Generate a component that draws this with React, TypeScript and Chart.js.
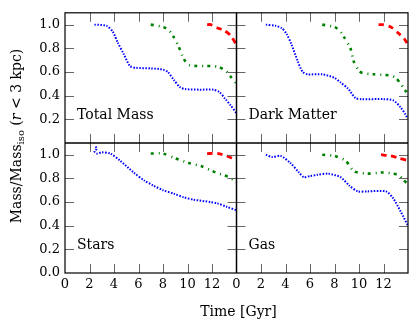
import React, { useEffect, useRef } from 'react';
import { Chart, registerables } from 'chart.js';
Chart.register(...registerables);

type P = [number, number];

// axis ranges and tick labels
const X_MIN = 0;
const X_MAX = 14;
const Y_MIN = 0;
const Y_MAX = 1.1;
const X_TICKS_LEFT = [0, 2, 4, 6, 8, 10, 12];
const X_TICKS_RIGHT = [0, 2, 4, 6, 8, 10, 12];
const Y_TICKS_TOP = [0.2, 0.4, 0.6, 0.8, 1.0];
const Y_TICKS_BOTTOM = [0.0, 0.2, 0.4, 0.6, 0.8, 1.0];
const PANEL_NAMES = ['Total Mass', 'Dark Matter', 'Stars', 'Gas'];
const X_TITLE = 'Time [Gyr]';

// Total Mass panel
const totalMassBlue: P[] = [[2.4, 1.0], [3.4, 0.99], [3.9, 0.94], [4.3, 0.85], [4.8, 0.75], [5.3, 0.65], [5.8, 0.635], [7.0, 0.63], [8.0, 0.62], [8.4, 0.6], [8.9, 0.53], [9.4, 0.47], [9.8, 0.455], [11.0, 0.45], [12.1, 0.45], [12.6, 0.43], [13.1, 0.37], [13.5, 0.32], [14.0, 0.25]];
const totalMassGreen: P[] = [[7.0, 1.0], [8.0, 0.98], [8.5, 0.95], [8.9, 0.89], [9.3, 0.81], [9.7, 0.71], [10.1, 0.66], [10.8, 0.65], [12.0, 0.65], [12.6, 0.64], [13.1, 0.61], [13.6, 0.55], [14.0, 0.5]];
const totalMassRed: P[] = [[11.6, 1.0], [11.9, 1.0], [12.5, 0.97], [13.0, 0.95], [13.5, 0.91], [14.0, 0.83]];

// Dark Matter panel
const darkMatterBlue: P[] = [[2.4, 1.0], [3.2, 0.99], [3.7, 0.97], [4.1, 0.92], [4.5, 0.83], [5.0, 0.69], [5.4, 0.6], [5.8, 0.58], [7.0, 0.58], [8.0, 0.55], [8.5, 0.51], [9.1, 0.46], [9.7, 0.38], [10.2, 0.37], [12.0, 0.37], [12.8, 0.36], [13.4, 0.3], [13.8, 0.24], [14.0, 0.2]];
const darkMatterGreen: P[] = [[7.0, 1.0], [8.0, 0.98], [8.5, 0.94], [8.8, 0.89], [9.3, 0.8], [9.6, 0.68], [10.0, 0.61], [10.3, 0.59], [11.2, 0.58], [12.6, 0.57], [13.0, 0.55], [13.4, 0.5], [13.8, 0.44], [14.0, 0.41]];
const darkMatterRed: P[] = [[11.6, 1.0], [11.9, 1.0], [12.6, 0.98], [13.3, 0.92], [13.7, 0.88], [14.0, 0.83]];

// Stars panel
const starsBlue: P[] = [[2.5, 1.07], [2.6, 1.05], [2.4, 1.03], [2.6, 1.01], [3.0, 1.02], [3.7, 1.01], [4.5, 0.95], [5.6, 0.85], [6.5, 0.78], [7.2, 0.74], [8.0, 0.7], [8.9, 0.67], [9.7, 0.64], [10.5, 0.62], [11.9, 0.6], [12.4, 0.59], [13.2, 0.56], [14.0, 0.53]];
const starsGreen: P[] = [[7.0, 1.01], [8.0, 1.01], [9.0, 0.97], [10.1, 0.93], [11.2, 0.9], [12.3, 0.85], [13.4, 0.81], [14.0, 0.77]];
const starsRed: P[] = [[11.6, 1.01], [12.5, 1.01], [13.2, 0.99], [13.7, 0.97], [14.0, 0.97]];

// Gas panel
const gasBlue: P[] = [[2.4, 1.0], [2.9, 0.98], [3.6, 0.99], [4.4, 0.93], [5.1, 0.85], [5.5, 0.81], [6.0, 0.82], [6.6, 0.83], [7.5, 0.84], [8.5, 0.81], [9.2, 0.74], [9.9, 0.69], [10.7, 0.69], [12.2, 0.69], [12.8, 0.63], [13.4, 0.52], [14.0, 0.4]];
const gasGreen: P[] = [[7.0, 1.0], [8.0, 0.99], [8.9, 0.95], [9.6, 0.86], [10.7, 0.84], [12.0, 0.85], [13.2, 0.83], [13.6, 0.79], [14.0, 0.75]];
const gasRed: P[] = [[11.8, 1.0], [12.6, 0.99], [13.3, 0.97], [14.0, 0.95]];

const SERIF = '"DejaVu Serif", serif';

const STYLE = {
  blue: { color: '#0000ff', dash: [1.5, 1.5], width: 2 },
  green: { color: '#008000', dash: [3, 5, 1, 4], width: 2.6 },
  red: { color: '#ff0000', dash: [5.5, 4.5], width: 2.8 },
};

function ds(data: P[], style: { color: string; dash: number[]; width: number }, xAxisID: string, yAxisID: string) {
  return {
    data: data.map(([x, y]) => ({ x, y })),
    borderColor: style.color,
    backgroundColor: style.color,
    borderDash: style.dash,
    borderWidth: style.width,
    borderCapStyle: 'butt',
    pointRadius: 0,
    tension: 0.25,
    fill: false,
    xAxisID,
    yAxisID,
  };
}

const TICK_LEN = 9;

const panelPlugin = {
  id: 'panelDecor',
  afterDatasetsDraw(chart: any) {
    const ctx = chart.ctx as CanvasRenderingContext2D;
    const s = chart.scales;
    const panels: [any, any, string][] = [
      [s.xL, s.yT, PANEL_NAMES[0]],
      [s.xR, s.yT, PANEL_NAMES[1]],
      [s.xL, s.yB, PANEL_NAMES[2]],
      [s.xR, s.yB, PANEL_NAMES[3]],
    ];
    const xMarks = X_TICKS_LEFT.filter((v) => v > X_MIN && v < X_MAX);
    const yMarks = Y_TICKS_BOTTOM.filter((v) => v > Y_MIN && v < Y_MAX);
    ctx.save();
    ctx.strokeStyle = '#666';
    ctx.lineWidth = 1;
    for (const [xs, ys, name] of panels) {
      const L = xs.left, R = xs.right, T = ys.top, B = ys.bottom;
      ctx.beginPath();
      for (const v of xMarks) {
        const px = Math.round(xs.getPixelForValue(v)) + 0.5;
        ctx.moveTo(px, B); ctx.lineTo(px, B - TICK_LEN);
        ctx.moveTo(px, T); ctx.lineTo(px, T + TICK_LEN);
      }
      for (const v of yMarks) {
        const py = Math.round(ys.getPixelForValue(v)) + 0.5;
        ctx.moveTo(L, py); ctx.lineTo(L + TICK_LEN, py);
        ctx.moveTo(R, py); ctx.lineTo(R - TICK_LEN, py);
      }
      ctx.stroke();
      ctx.fillStyle = '#000';
      ctx.font = `14px ${SERIF}`;
      ctx.textAlign = 'left';
      ctx.textBaseline = 'alphabetic';
      ctx.fillText(name, L + 12, B - 24);
    }
    // spines
    const ca = chart.chartArea;
    ctx.strokeStyle = '#000';
    ctx.lineWidth = 1.2;
    ctx.strokeRect(ca.left, ca.top, ca.right - ca.left, ca.bottom - ca.top);
    ctx.lineWidth = 1.5;
    const midX = s.xL.right;
    const midY = s.yT.bottom;
    ctx.beginPath();
    ctx.moveTo(midX, ca.top); ctx.lineTo(midX, ca.bottom);
    ctx.moveTo(ca.left, midY); ctx.lineTo(ca.right, midY);
    ctx.stroke();

    // x title
    ctx.fillStyle = '#000';
    ctx.font = `14px ${SERIF}`;
    ctx.textAlign = 'center';
    ctx.fillText(X_TITLE, (ca.left + ca.right) / 2 + 2, 316);

    // y title with subscript
    const parts = [
      { t: 'Mass/Mass', f: `14px ${SERIF}`, dy: 0 },
      { t: 'iso', f: `10px ${SERIF}`, dy: 3 },
      { t: ' (', f: `14px ${SERIF}`, dy: 0 },
      { t: 'r', f: `italic 14px ${SERIF}`, dy: 0 },
      { t: ' < 3 kpc)', f: `14px ${SERIF}`, dy: 0 },
    ];
    let total = 0;
    const widths = parts.map((p) => { ctx.font = p.f; const w = ctx.measureText(p.t).width; total += w; return w; });
    ctx.translate(21, 136);
    ctx.rotate(-Math.PI / 2);
    ctx.textAlign = 'left';
    let x = -total / 2;
    parts.forEach((p, i) => {
      ctx.font = p.f;
      ctx.fillText(p.t, x, p.dy);
      x += widths[i];
    });
    ctx.restore();
  },
};

function xScale(ticks: number[]) {
  return {
    type: 'linear',
    position: 'bottom',
    stack: 'xs',
    min: X_MIN,
    max: X_MAX,
    grid: { display: false, drawTicks: false },
    border: { display: false },
    afterBuildTicks: (sc: any) => { sc.ticks = ticks.map((v) => ({ value: v })); },
    afterFit: (sc: any) => { sc.height = 55; },
    ticks: {
      padding: 4,
      color: '#000',
      font: { family: SERIF, size: 13 },
      maxRotation: 0,
      autoSkip: false,
      callback: (v: number) => String(v),
    },
  };
}

function yScale(ticks: number[]) {
  return {
    type: 'linear',
    position: 'left',
    stack: 'ys',
    min: Y_MIN,
    max: Y_MAX,
    grid: { display: false, drawTicks: false },
    border: { display: false },
    afterBuildTicks: (sc: any) => { sc.ticks = ticks.map((v) => ({ value: v })); },
    afterFit: (sc: any) => { sc.width = 65; },
    ticks: {
      padding: 5,
      color: '#000',
      font: { family: SERIF, size: 13 },
      autoSkip: false,
      callback: (v: number) => Number(v).toFixed(1),
    },
  };
}

export default function App() {
  const ref = useRef<HTMLCanvasElement>(null);
  useEffect(() => {
    if (!ref.current) return;
    const chart = new Chart(ref.current, {
      type: 'line',
      data: {
        datasets: [
          ds(totalMassBlue, STYLE.blue, 'xL', 'yT'),
          ds(totalMassGreen, STYLE.green, 'xL', 'yT'),
          ds(totalMassRed, STYLE.red, 'xL', 'yT'),
          ds(darkMatterBlue, STYLE.blue, 'xR', 'yT'),
          ds(darkMatterGreen, STYLE.green, 'xR', 'yT'),
          ds(darkMatterRed, STYLE.red, 'xR', 'yT'),
          ds(starsBlue, STYLE.blue, 'xL', 'yB'),
          ds(starsGreen, STYLE.green, 'xL', 'yB'),
          ds(starsRed, STYLE.red, 'xL', 'yB'),
          ds(gasBlue, STYLE.blue, 'xR', 'yB'),
          ds(gasGreen, STYLE.green, 'xR', 'yB'),
          ds(gasRed, STYLE.red, 'xR', 'yB'),
        ] as any,
      },
      options: {
        responsive: false,
        animation: false,
        layout: { padding: { top: 7, right: 7, left: 0, bottom: 0 } },
        plugins: { legend: { display: false }, tooltip: { enabled: false }, title: { display: false } },
        scales: {
          xL: xScale(X_TICKS_LEFT),
          xR: xScale(X_TICKS_RIGHT),
          yB: yScale(Y_TICKS_BOTTOM),
          yT: yScale(Y_TICKS_TOP),
        } as any,
      },
      plugins: [panelPlugin],
    });
    return () => chart.destroy();
  }, []);
  return (
    <div style={{ position: 'fixed', left: 0, top: 0, width: 415, height: 328, background: '#fff' }}>
      <canvas ref={ref} width={415} height={328} style={{ display: 'block' }} />
    </div>
  );
}
